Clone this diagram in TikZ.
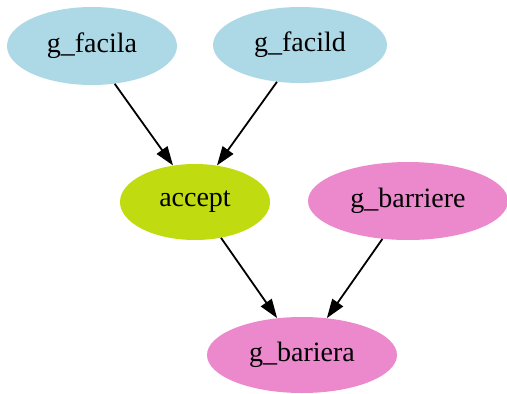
\documentclass[tikz,border=0pt]{standalone}
\usepackage{fontspec}
\setmainfont{Liberation Serif}
\usetikzlibrary{shapes.geometric,arrows.meta}
\definecolor{nodeblue}{RGB}{173,216,230}
\definecolor{nodegreen}{RGB}{192,220,16}
\definecolor{nodepink}{RGB}{236,136,204}
\tikzset{
  gv/.style={ellipse, inner sep=0pt, font=\fontsize{28}{30}\selectfont},
  blue/.style={gv, fill=nodeblue},
  green/.style={gv, fill=nodegreen},
  pink/.style={gv, fill=nodepink},
  edge/.style={line width=1.8pt, -{Triangle[length=19pt,width=13pt]}}
}
\begin{document}
\begin{tikzpicture}[x=1pt,y=-1pt]
\useasboundingbox (0,0) rectangle (507,394);
\node[blue, minimum width=170pt, minimum height=78pt] (facila) at (92,46) {g\_facila};
\node[blue, minimum width=174pt, minimum height=76pt] (facild) at (300,45) {g\_facild};
\node[green, minimum width=150pt, minimum height=76pt] (accept) at (195,202) {accept};
\node[pink, minimum width=200pt, minimum height=78pt] (barriere) at (408,201) {g\_barriere};
\node[pink, minimum width=190pt, minimum height=76pt] (bariera) at (302,355) {g\_bariera};
\draw[edge] (facila.-59) -- (accept.121);
\draw[edge] (facild.-122) -- (accept.59.5);
\draw[edge] (accept.-54.5) -- (bariera.124);
\draw[edge] (barriere.-124.8) -- (bariera.56);
\end{tikzpicture}
\end{document}
